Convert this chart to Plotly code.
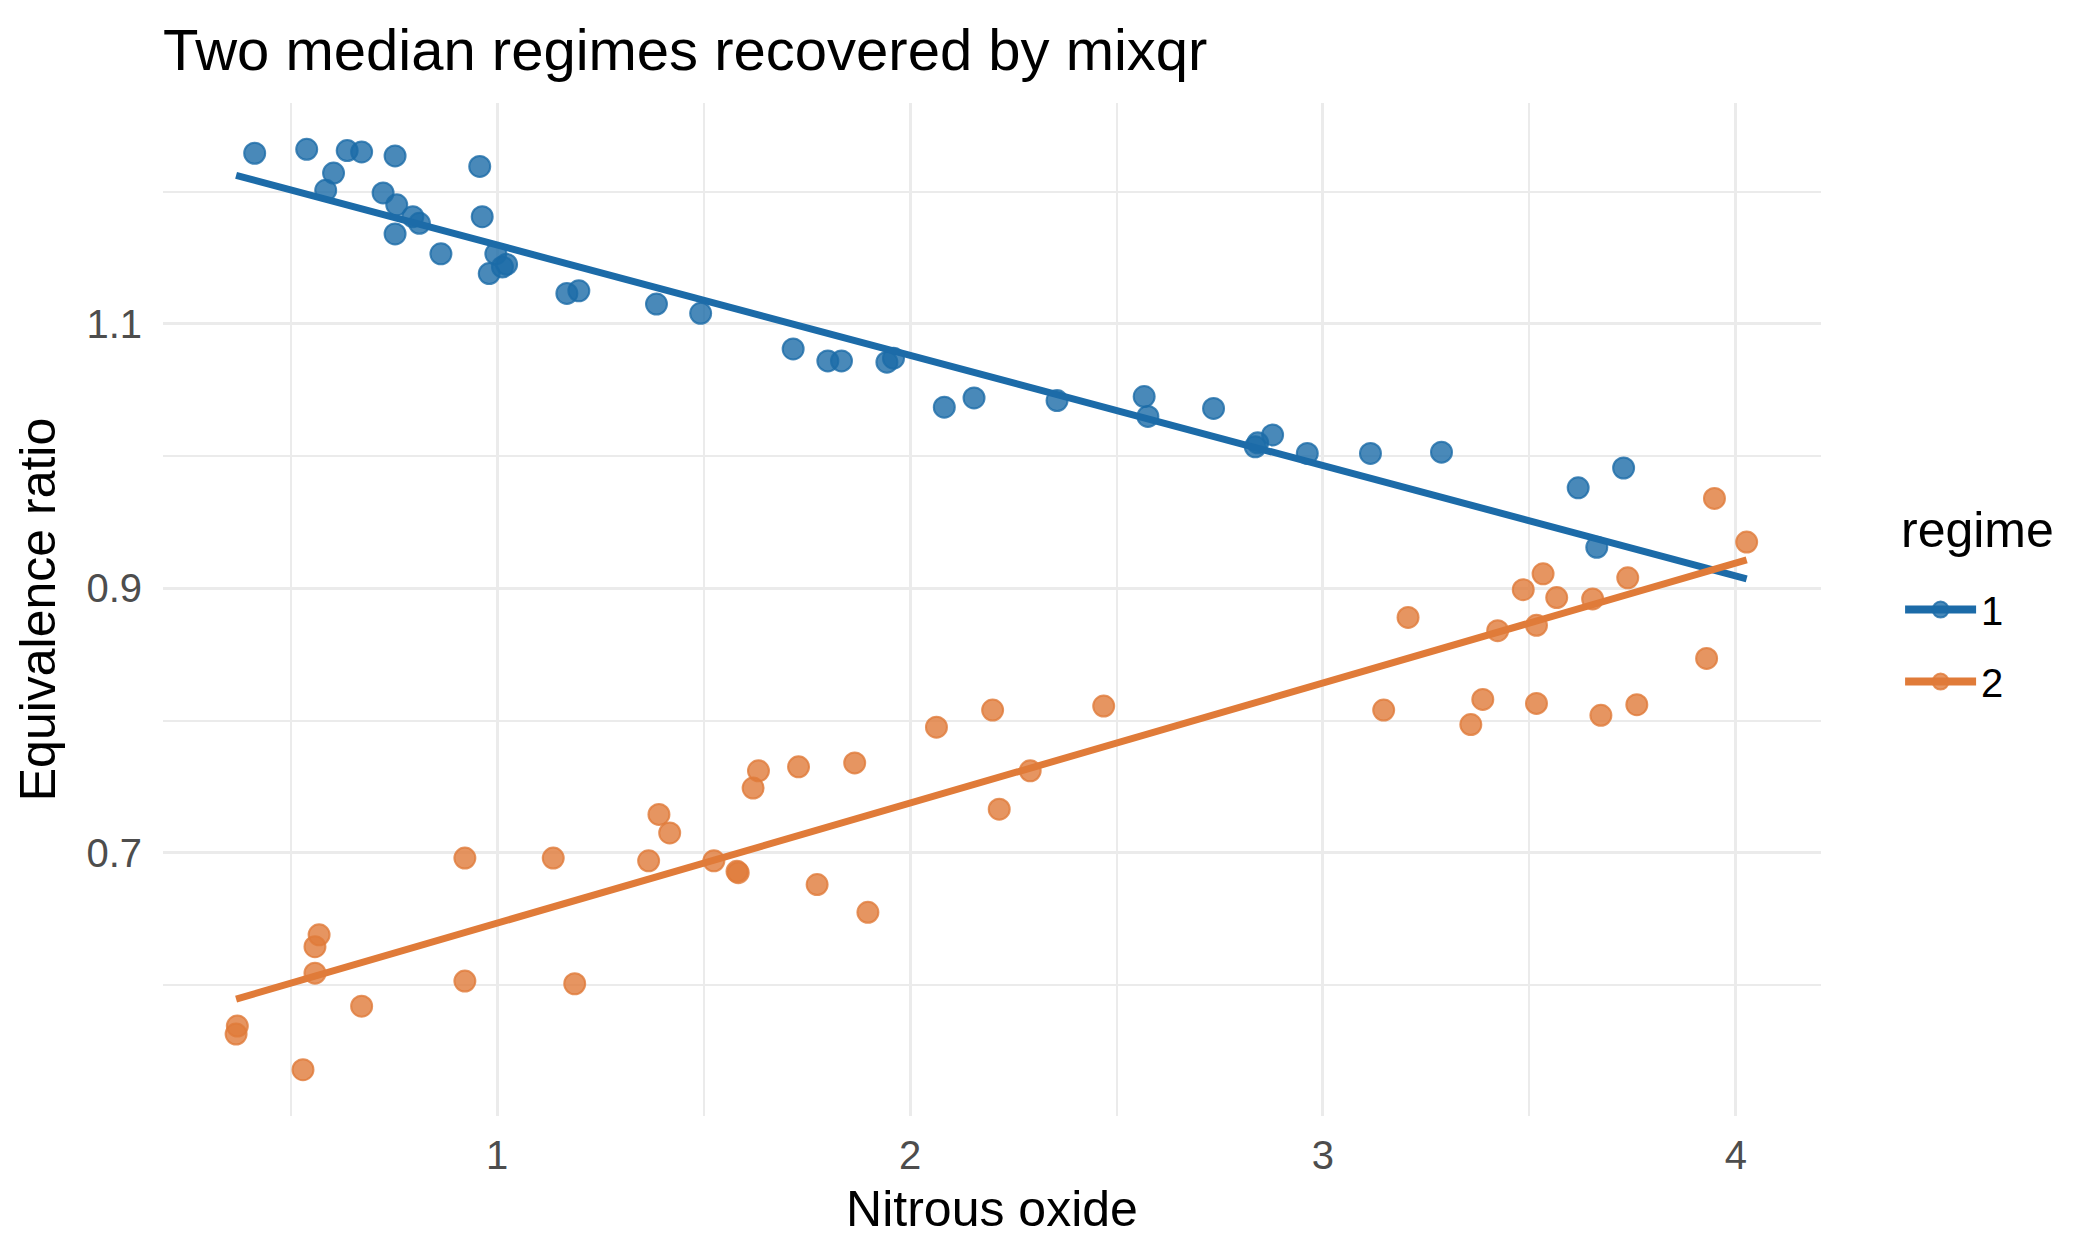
import plotly.graph_objects as go

# ---- data ----
r1_x = [0.413, 0.539, 0.604, 0.585, 0.637, 0.672, 0.753, 0.724, 0.757, 0.753, 0.796, 0.812,
        0.864, 0.958, 0.964, 0.981, 0.997, 1.013, 1.023, 1.169, 1.198, 1.386, 1.493, 1.717,
        1.801, 1.834, 1.944, 1.960, 2.083, 2.155, 2.356, 2.567, 2.576, 2.735, 2.836, 2.842,
        2.878, 2.962, 3.115, 3.287, 3.618, 3.663, 3.728]
r1_y = [1.229, 1.232, 1.214, 1.201, 1.231, 1.230, 1.227, 1.199, 1.190, 1.168, 1.181, 1.176,
        1.153, 1.219, 1.181, 1.138, 1.153, 1.143, 1.145, 1.123, 1.125, 1.115, 1.108, 1.081,
        1.072, 1.072, 1.071, 1.074, 1.037, 1.044, 1.042, 1.045, 1.030, 1.036, 1.007, 1.010,
        1.016, 1.002, 1.002, 1.003, 0.976, 0.931, 0.991]

r2_x = [0.371, 0.368, 0.530, 0.559, 0.569, 0.559, 0.672, 0.922, 0.922, 1.136, 1.188, 1.367,
        1.392, 1.418, 1.525, 1.581, 1.584, 1.620, 1.633, 1.730, 1.775, 1.866, 1.898, 2.064,
        2.200, 2.216, 2.291, 2.469, 3.147, 3.206, 3.358, 3.387, 3.423, 3.485, 3.517, 3.517,
        3.533, 3.566, 3.653, 3.673, 3.738, 3.760, 3.929, 3.948, 4.026]
r2_y = [0.569, 0.563, 0.536, 0.629, 0.638, 0.609, 0.584, 0.696, 0.603, 0.696, 0.601, 0.694,
        0.729, 0.715, 0.694, 0.686, 0.685, 0.749, 0.762, 0.765, 0.676, 0.768, 0.655, 0.795,
        0.808, 0.733, 0.762, 0.811, 0.808, 0.878, 0.797, 0.816, 0.868, 0.899, 0.872, 0.813,
        0.911, 0.893, 0.892, 0.804, 0.908, 0.812, 0.847, 0.968, 0.935]

# fitted median lines (intercept, slope)
regimes = ["1", "2"]
intercepts = [1.243, 0.556]
slopes = [-0.0834, 0.0908]

x_ticks = [1, 2, 3, 4]
x_minor = [0.5, 1.5, 2.5, 3.5]
y_ticks = [0.7, 0.9, 1.1]
y_minor = [0.6, 0.8, 1.0, 1.2]

# ---- styling ----
line_cols = ["#1C6BA8", "#E07B39"]
pt_cols = ["rgba(28,107,168,0.8)", "rgba(224,123,57,0.8)"]
FONT = "Liberation Sans, Arial, sans-serif"
GRID = "#EBEBEB"

all_x = r1_x + r2_x
xmin, xmax = min(all_x), max(all_x)

fig = go.Figure()
for i, (xs, ys) in enumerate([(r1_x, r1_y), (r2_x, r2_y)]):
    fig.add_trace(go.Scatter(
        x=xs, y=ys, mode="markers", showlegend=False, hoverinfo="skip",
        marker=dict(size=21, color=pt_cols[i], line=dict(color=pt_cols[i], width=2)),
    ))
for i in range(2):
    lx = [xmin, xmax]
    ly = [intercepts[i] + slopes[i] * v for v in lx]
    fig.add_trace(go.Scatter(
        x=lx, y=ly, mode="lines", showlegend=False, hoverinfo="skip",
        line=dict(color=line_cols[i], width=7),
    ))
for i in range(2):
    fig.add_trace(go.Scatter(
        x=[None], y=[None], mode="lines+markers", name=regimes[i],
        legendgroup=regimes[i],
        line=dict(color=line_cols[i], width=8),
        marker=dict(size=21, color=pt_cols[i], line=dict(color=pt_cols[i], width=2)),
    ))

axis_common = dict(
    showline=False, zeroline=False, ticks="",
    gridcolor=GRID, gridwidth=3.4,
    tickfont=dict(family=FONT, size=40, color="#4D4D4D"),
)

fig.update_layout(
    width=2100, height=1260,
    paper_bgcolor="white", plot_bgcolor="white",
    margin=dict(l=163, r=279, t=103, b=144),
    font=dict(family=FONT, color="black"),
    title=dict(text="Two median regimes recovered by mixqr",
               font=dict(family=FONT, size=58, color="black"),
               x=163 / 2100, xref="container", xanchor="left",
               y=1 - 50 / 1260, yref="container", yanchor="middle"),
    xaxis=dict(axis_common, range=[0.191, 4.206], tickvals=x_ticks,
               ticktext=[str(v) for v in x_ticks], ticklabelstandoff=12,
               minor=dict(tickvals=x_minor, showgrid=True, gridcolor=GRID, gridwidth=2),
               title=dict(text="Nitrous oxide", standoff=14,
                          font=dict(family=FONT, size=50, color="black"))),
    yaxis=dict(axis_common, range=[0.501, 1.267], tickvals=y_ticks,
               ticktext=["0.7", "0.9", "1.1"], ticklabelstandoff=20,
               minor=dict(tickvals=y_minor, showgrid=True, gridcolor=GRID, gridwidth=2),
               title=dict(text="Equivalence ratio", standoff=14,
                          font=dict(family=FONT, size=50, color="black"))),
    legend=dict(
        font=dict(family=FONT, size=40, color="black"),
        x=1.0477, xanchor="left", y=0.532, yanchor="top",
        itemwidth=71, tracegroupgap=17, bgcolor="rgba(0,0,0,0)",
    ),
    annotations=[dict(
        text="regime", xref="paper", yref="paper", x=1.047, y=0.5785,
        xanchor="left", yanchor="middle", showarrow=False,
        font=dict(family=FONT, size=50, color="black"),
    )],
)

fig.write_html("out.html")
